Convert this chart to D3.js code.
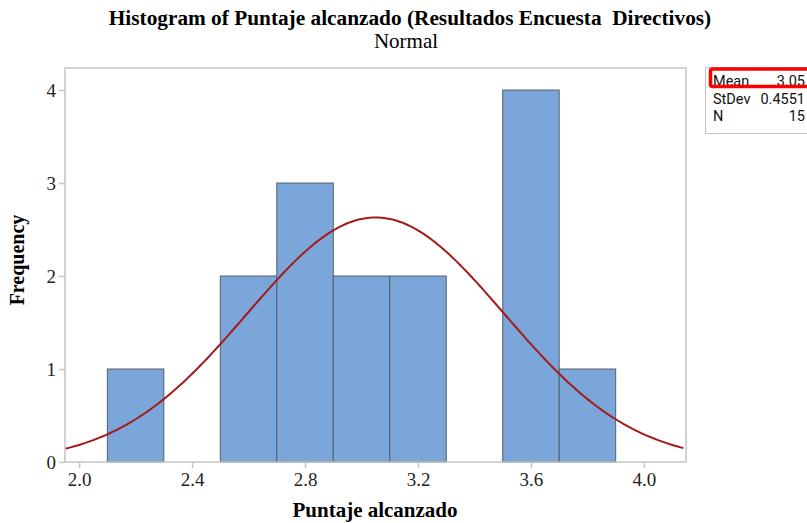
<!DOCTYPE html>
<html>
<head>
<meta charset="utf-8">
<script src="https://cdn.jsdelivr.net/npm/d3@7"></script>
<style>
  body { margin: 0; background: #fff; }
  svg { display: block; }
</style>
</head>
<body>
<svg width="807" height="523"></svg>
<script>
let svg = d3.select("svg");

// histogram bins (lower edge, upper edge) and counts
let bin_lo = [2.1, 2.3, 2.5, 2.7, 2.9, 3.1, 3.3, 3.5, 3.7];
let bin_hi = [2.3, 2.5, 2.7, 2.9, 3.1, 3.3, 3.5, 3.7, 3.9];
let counts = [1, 0, 2, 3, 2, 2, 0, 4, 1];

let x_ticks = [2.0, 2.4, 2.8, 3.2, 3.6, 4.0];
let y_ticks = [0, 1, 2, 3, 4];

let stat_names = ["Mean", "StDev", "N"];
let stat_values = ["3.05", "0.4551", "15"];
let mean = 3.05, stdev = 0.4551, n = 15, bin_width = 0.2;

let plot_left = 65, plot_right = 686, plot_top = 68, plot_bottom = 462;

let x_scale = d3.scaleLinear().domain([1.95, 4.149]).range([plot_left, plot_right]);
let y_scale = d3.scaleLinear().domain([0, 4.237]).range([plot_bottom, plot_top]);

let serif = "'Liberation Serif', 'Times New Roman', serif";
let sans = "Roboto, 'Open Sans', sans-serif";

// title
svg.append("text")
  .attr("x", 410).attr("y", 25)
  .attr("text-anchor", "middle")
  .attr("xml:space", "preserve")
  .style("font-family", serif).style("font-weight", "bold").style("font-size", "21.3px")
  .text("Histogram of Puntaje alcanzado (Resultados Encuesta  Directivos)");
svg.append("text")
  .attr("x", 406).attr("y", 48)
  .attr("text-anchor", "middle")
  .style("font-family", serif).style("font-size", "21px")
  .text("Normal");

// bars
let bars = svg.append("g");
counts.forEach((c, i) => {
  if (c == 0) return;
  bars.append("rect")
    .attr("x", x_scale(bin_lo[i]))
    .attr("y", y_scale(c))
    .attr("width", x_scale(bin_hi[i]) - x_scale(bin_lo[i]))
    .attr("height", y_scale(0) - y_scale(c))
    .attr("fill", "#7BA6DA")
    .attr("stroke", "#555e6a")
    .attr("stroke-width", 1);
});

// fitted normal curve, scaled to counts
let density = (v) => n * bin_width / (stdev * Math.sqrt(2 * Math.PI)) *
  Math.exp(-0.5 * Math.pow((v - mean) / stdev, 2));
let curve_x = d3.range(x_scale.domain()[0], x_scale.domain()[1] + 0.001, 0.01);
svg.append("path")
  .datum(curve_x)
  .attr("fill", "none")
  .attr("stroke", "#A31C1C")
  .attr("stroke-width", 2)
  .attr("d", d3.line().x((d) => x_scale(d)).y((d) => y_scale(density(d))));

// frame
svg.append("rect")
  .attr("x", plot_left).attr("y", plot_top)
  .attr("width", plot_right - plot_left).attr("height", plot_bottom - plot_top)
  .attr("fill", "none").attr("stroke", "#c4c4c4").attr("stroke-width", 1.5);

// axes
let x_axis = svg.append("g")
  .attr("transform", "translate(0," + plot_bottom + ")")
  .call(d3.axisBottom(x_scale).tickValues(x_ticks).tickFormat(d3.format(".1f")).tickSize(6).tickSizeOuter(0));
let y_axis = svg.append("g")
  .attr("transform", "translate(" + plot_left + ",0)")
  .call(d3.axisLeft(y_scale).tickValues(y_ticks).tickFormat(d3.format("d")).tickSize(6).tickSizeOuter(0));
[x_axis, y_axis].forEach((a) => {
  a.select(".domain").remove();
  a.selectAll("line").attr("stroke", "#c4c4c4").attr("stroke-width", 1.5);
  a.selectAll("text")
    .attr("fill", "#222")
    .style("font-family", serif).style("font-size", "19px");
});
x_axis.selectAll("text").attr("dy", "0.95em").attr("y", 6);
y_axis.selectAll("text").attr("x", -9);

// axis titles
svg.append("text")
  .attr("x", 375).attr("y", 517)
  .attr("text-anchor", "middle")
  .style("font-family", serif).style("font-weight", "bold").style("font-size", "21px")
  .text("Puntaje alcanzado");
svg.append("text")
  .attr("transform", "translate(24,260) rotate(-90)")
  .attr("text-anchor", "middle")
  .style("font-family", serif).style("font-weight", "bold").style("font-size", "20px")
  .text("Frequency");

// stats box
let box = svg.append("g");
box.append("rect")
  .attr("x", 705.5).attr("y", 67.5).attr("width", 120).attr("height", 66)
  .attr("fill", "#fff").attr("stroke", "#c4c4c4");
stat_names.forEach((s, i) => {
  box.append("text")
    .attr("x", 713).attr("y", 86 + i * 17.5)
    .style("font-family", sans).style("font-size", "14.5px")
    .attr("fill", "#111")
    .text(s);
  box.append("text")
    .attr("x", 805).attr("y", 86 + i * 17.5)
    .attr("text-anchor", "end")
    .style("font-family", sans).style("font-size", "14.5px")
    .attr("fill", "#111")
    .text(stat_values[i]);
});
// red highlight around the mean row
box.append("rect")
  .attr("x", 710.5).attr("y", 69).attr("width", 110).attr("height", 17.5)
  .attr("fill", "none").attr("stroke", "#f00").attr("stroke-width", 3.5).attr("rx", 2);
</script>
</body>
</html>
